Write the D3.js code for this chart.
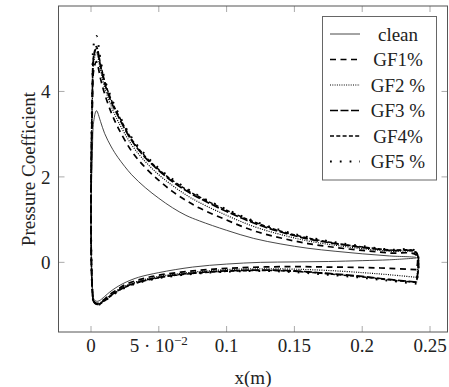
<!DOCTYPE html>
<html>
<head>
<meta charset="utf-8">
<script src="https://cdn.jsdelivr.net/npm/d3@7"></script>
<style>
  body { margin: 0; background: #fff; }
</style>
</head>
<body>
<div id="chart"></div>
<script>
// chordwise stations (m)
const xUpper = [0, 0.001, 0.002, 0.004, 0.007, 0.01, 0.015, 0.02, 0.03, 0.04, 0.05, 0.06, 0.07, 0.08, 0.1, 0.12, 0.14, 0.16, 0.18, 0.2, 0.22, 0.24];
const xLower = [0.001, 0.002, 0.004, 0.006, 0.01, 0.014, 0.02, 0.026, 0.035, 0.05, 0.075, 0.1, 0.125, 0.15, 0.175, 0.2, 0.22, 0.24];

const seriesNames = ["clean", "GF1%", "GF2 %", "GF3 %", "GF4%", "GF5 %"];

// Cp on the upper branch
const cleanUpper = [1.0, 2.6, 3.3, 3.55, 3.3, 3.02, 2.7, 2.45, 2.05, 1.75, 1.5, 1.28, 1.1, 0.97, 0.75, 0.56, 0.43, 0.33, 0.26, 0.2, 0.15, 0.11];
const gf1Upper = [1.0, 3.6, 4.5, 4.7, 4.3, 3.95, 3.5, 3.15, 2.6, 2.22, 1.92, 1.66, 1.45, 1.27, 0.99, 0.74, 0.57, 0.44, 0.35, 0.28, 0.22, 0.17];
const gf2Upper = [1.0, 3.8, 4.7, 4.9, 4.5, 4.1, 3.65, 3.3, 2.75, 2.36, 2.05, 1.8, 1.58, 1.4, 1.1, 0.84, 0.65, 0.5, 0.4, 0.32, 0.26, 0.2];
const gf3Upper = [1.0, 3.9, 4.8, 5.0, 4.6, 4.2, 3.75, 3.42, 2.85, 2.45, 2.15, 1.89, 1.68, 1.5, 1.19, 0.92, 0.71, 0.55, 0.44, 0.35, 0.28, 0.22];
const gf4Upper = [1.0, 4.0, 4.85, 5.05, 4.65, 4.25, 3.8, 3.46, 2.88, 2.48, 2.17, 1.92, 1.71, 1.53, 1.22, 0.95, 0.73, 0.57, 0.45, 0.36, 0.29, 0.23];
const gf5Upper = [1.0, 4.1, 5.1, 5.3, 4.75, 4.3, 3.85, 3.5, 2.92, 2.52, 2.2, 1.95, 1.74, 1.55, 1.24, 0.97, 0.75, 0.59, 0.47, 0.38, 0.3, 0.25];

// Cp on the lower branch
const cleanLower = [-0.6, -0.85, -0.91, -0.9, -0.8, -0.69, -0.56, -0.46, -0.35, -0.24, -0.11, -0.04, 0.0, 0.01, 0.02, 0.04, 0.06, 0.1];
const gf1Lower = [-0.65, -0.9, -0.96, -0.95, -0.86, -0.75, -0.62, -0.51, -0.41, -0.3, -0.2, -0.14, -0.11, -0.1, -0.11, -0.12, -0.14, -0.17];
const gf2Lower = [-0.65, -0.9, -0.97, -0.96, -0.88, -0.77, -0.64, -0.54, -0.44, -0.33, -0.23, -0.17, -0.15, -0.16, -0.19, -0.24, -0.29, -0.35];
const gf3Lower = [-0.65, -0.92, -0.98, -0.97, -0.89, -0.79, -0.66, -0.56, -0.46, -0.35, -0.25, -0.2, -0.18, -0.2, -0.26, -0.33, -0.4, -0.46];
const gf4Lower = [-0.65, -0.92, -0.98, -0.98, -0.9, -0.8, -0.67, -0.57, -0.47, -0.36, -0.26, -0.21, -0.19, -0.21, -0.27, -0.34, -0.41, -0.47];
const gf5Lower = [-0.66, -0.93, -0.99, -0.99, -0.91, -0.81, -0.68, -0.58, -0.48, -0.37, -0.27, -0.22, -0.2, -0.23, -0.29, -0.36, -0.43, -0.5];

const upperValues = [cleanUpper, gf1Upper, gf2Upper, gf3Upper, gf4Upper, gf5Upper];
const lowerValues = [cleanLower, gf1Lower, gf2Lower, gf3Lower, gf4Lower, gf5Lower];

const xTicks = [0, 0.05, 0.1, 0.15, 0.2, 0.25];
const xTickLabels = ["0", "5·10^-2", "0.1", "0.15", "0.2", "0.25"];
const yTicks = [0, 2, 4];

const styles = [
    { width: 0.9, dash: null, color: "#333" },
    { width: 1.7, dash: "6,4.5", color: "#000" },
    { width: 1.2, dash: "1,1.3", color: "#000" },
    { width: 1.7, dash: "8,2.5", color: "#000" },
    { width: 1.5, dash: "4,2.3", color: "#000" },
    { width: 2, dash: "1.8,8", color: "#000" }
];

const serif = '"Liberation Serif"';

const W = 449, H = 387;
const margin = { top: 6, right: 1.5, bottom: 55, left: 58.5 };
const width = W - margin.left - margin.right;
const height = H - margin.top - margin.bottom;

const x = d3.scaleLinear().domain([-0.02397, 0.2629]).range([0, width]);
const y = d3.scaleLinear().domain([-1.63, 6.0]).range([height, 0]);

const svg = d3.select("#chart").append("svg")
    .attr("width", W)
    .attr("height", H);

svg.append("defs").append("clipPath")
    .attr("id", "clip-cp")
    .append("rect")
    .attr("width", width)
    .attr("height", height);

const g = svg.append("g")
    .attr("transform", `translate(${margin.left}, ${margin.top})`);

// ticks (inside, mirrored on all sides)
const tickLen = 6;
const tickColor = "#aaa";
g.selectAll(".xt-b").data(xTicks).join("line")
    .attr("x1", d => x(d)).attr("x2", d => x(d))
    .attr("y1", height).attr("y2", height - tickLen)
    .attr("stroke", tickColor);
g.selectAll(".xt-t").data(xTicks).join("line")
    .attr("x1", d => x(d)).attr("x2", d => x(d))
    .attr("y1", 0).attr("y2", tickLen)
    .attr("stroke", tickColor);
g.selectAll(".yt-l").data(yTicks).join("line")
    .attr("x1", 0).attr("x2", tickLen)
    .attr("y1", d => y(d)).attr("y2", d => y(d))
    .attr("stroke", tickColor);
g.selectAll(".yt-r").data(yTicks).join("line")
    .attr("x1", width).attr("x2", width - tickLen)
    .attr("y1", d => y(d)).attr("y2", d => y(d))
    .attr("stroke", tickColor);

// tick labels
const xl = g.selectAll(".xl").data(xTicks).join("text")
    .attr("x", d => x(d))
    .attr("y", height + 20)
    .attr("text-anchor", "middle")
    .attr("font-size", 19)
    .attr("fill", "#222")
    .style("font-family", serif);
xl.each(function (d, i) {
    const lab = xTickLabels[i];
    const t = d3.select(this);
    if (lab.includes("^")) {
        const [base, exp] = lab.split("^");
        t.append("tspan").text(base.replace("·", " · "));
        t.append("tspan").attr("dy", -7).attr("font-size", 13).text(exp.replace("-", "−"));
    } else {
        t.text(lab);
    }
});

g.selectAll(".yl").data(yTicks).join("text")
    .attr("x", -8)
    .attr("y", d => y(d))
    .attr("dy", "0.35em")
    .attr("text-anchor", "end")
    .attr("font-size", 19)
    .attr("fill", "#222")
    .style("font-family", serif)
    .text(d => d);

// curves
const line = d3.line()
    .x(d => x(d[0]))
    .y(d => y(d[1]))
    .curve(d3.curveCatmullRom.alpha(0.5));

const plot = g.append("g").attr("clip-path", "url(#clip-cp)");

seriesNames.forEach((name, i) => {
    const low = xLower.map((xv, j) => [xv, lowerValues[i][j]]).reverse();
    const up = xUpper.map((xv, j) => [xv, upperValues[i][j]]);
    const pts = low.concat(up);
    pts.push(low[0]);
    const s = styles[i];
    plot.append("path")
        .datum(pts)
        .attr("fill", "none")
        .attr("stroke", s.color)
        .attr("stroke-width", s.width)
        .attr("stroke-dasharray", s.dash)
        .attr("stroke-linejoin", "round")
        .attr("d", line);
});

// frame
g.append("rect")
    .attr("width", width)
    .attr("height", height)
    .attr("fill", "none")
    .attr("stroke", "#555")
    .attr("stroke-width", 1);

// axis titles
svg.append("text")
    .attr("x", margin.left + width / 2)
    .attr("y", 384)
    .attr("text-anchor", "middle")
    .attr("font-size", 19)
    .attr("fill", "#222")
    .style("font-family", serif)
    .text("x(m)");

svg.append("text")
    .attr("transform", `translate(35, ${margin.top + height / 2}) rotate(-90)`)
    .attr("text-anchor", "middle")
    .attr("font-size", 19)
    .attr("fill", "#222")
    .style("font-family", serif)
    .text("Pressure Coefficient");

// legend
const legend = svg.append("g");
legend.append("rect")
    .attr("x", 322.5).attr("y", 16.5)
    .attr("width", 114).attr("height", 163.5)
    .attr("fill", "#fff")
    .attr("stroke", "#666")
    .attr("stroke-width", 1);

const rowY = d3.scaleLinear().domain([0, 5]).range([34, 161.5]);
seriesNames.forEach((name, i) => {
    const s = styles[i];
    legend.append("line")
        .attr("x1", 330).attr("x2", 360)
        .attr("y1", rowY(i)).attr("y2", rowY(i))
        .attr("stroke", s.color)
        .attr("stroke-width", s.width)
        .attr("stroke-dasharray", s.dash);
    legend.append("text")
        .attr("x", 398)
        .attr("y", rowY(i))
        .attr("dy", "0.35em")
        .attr("text-anchor", "middle")
        .attr("font-size", 19)
        .attr("fill", "#222")
        .style("font-family", serif)
        .text(name);
});
</script>
</body>
</html>
